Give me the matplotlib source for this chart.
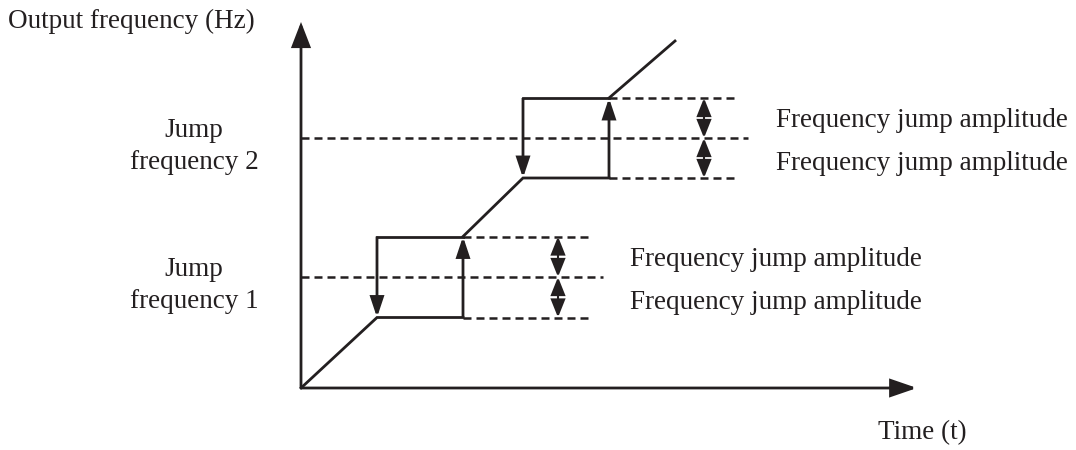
import numpy as np
import matplotlib.pyplot as plt
from matplotlib.patches import FancyArrowPatch

plt.rcParams['font.family'] = ['Liberation Serif', 'DejaVu Serif']

# diagram units (1 unit ~ 1 px), origin at the corner of the two axes
jump_freq = [111, 250]        # jump frequency 1 and 2
jump_amp = [40.5, 40]         # half width of each jump band
band_start = [76, 222]        # time where the output reaches the lower edge
band_stop = [162, 308]        # time where the output leaps to the upper edge
ramp_end = (374, 347)
axis_end = (616, 366)
amp_marker_t = [257, 403]     # where the amplitude double arrows sit
dash_end = [289, 434]
centre_dash_end = [302, 447]
band_names = ['frequency 1', 'frequency 2']
amp_label = 'Frequency jump amplitude'

ink = '#231f20'
fs = 19.5

fig = plt.figure(figsize=(10.76, 4.5), dpi=100)
ax = fig.add_axes([0, 0, 1, 1])
ax.set_xlim(-301, 775)
ax.set_ylim(-62, 388)
ax.axis('off')


def arrow(p0, p1, style, hl, hw, lw=2.0):
    a = FancyArrowPatch(p0, p1, arrowstyle=f'{style},head_length={hl},head_width={hw}',
                        mutation_scale=1, lw=lw, color=ink, shrinkA=0, shrinkB=0,
                        capstyle='butt', joinstyle='miter')
    ax.add_patch(a)


low = [f - a for f, a in zip(jump_freq, jump_amp)]
high = [f + a for f, a in zip(jump_freq, jump_amp)]

# axes
arrow((0, 0), (0, axis_end[1]), '-|>', 15, 5.8)
arrow((0, 0), (axis_end[0], 0), '-|>', 16, 5.5)

# output frequency path
ax.plot([0, band_start[0], band_stop[0]], [0, low[0], low[0]], color=ink, lw=2.0,
        solid_joinstyle='miter')
ax.plot([band_stop[0], band_start[1], band_stop[1]], [high[0], low[1], low[1]], color=ink,
        lw=2.0, solid_joinstyle='miter')
ax.plot([band_stop[1], ramp_end[0]], [high[1], ramp_end[1]], color=ink, lw=2.0)

dash = (0, (3.2, 2.0))
for i in range(2):
    # top of the band and the drop back down
    ax.plot([band_start[i], band_stop[i]], [high[i], high[i]], color=ink, lw=2.0)
    arrow((band_start[i], high[i]), (band_start[i], low[i]), '-|>', 12, 4.0)
    arrow((band_stop[i], low[i]), (band_stop[i], high[i]), '-|>', 12, 4.0)

    # dashed guides
    ax.plot([band_stop[i], dash_end[i]], [high[i], high[i]], color=ink, lw=1.8, ls=dash)
    ax.plot([band_stop[i], dash_end[i]], [low[i], low[i]], color=ink, lw=1.8, ls=dash)
    ax.plot([0, centre_dash_end[i]], [jump_freq[i], jump_freq[i]], color=ink, lw=1.8, ls=dash)

    # amplitude double arrows
    arrow((amp_marker_t[i], jump_freq[i]), (amp_marker_t[i], high[i]), '<|-|>', 11, 4.4, lw=1.5)
    arrow((amp_marker_t[i], jump_freq[i]), (amp_marker_t[i], low[i]), '<|-|>', 11, 4.4, lw=1.5)

    ax.text(amp_marker_t[i] + 72, jump_freq[i] + 11, amp_label, fontsize=fs, color=ink,
            ha='left', va='baseline')
    ax.text(amp_marker_t[i] + 72, jump_freq[i] - 32, amp_label, fontsize=fs, color=ink,
            ha='left', va='baseline')

    ax.text(-107, jump_freq[i] + 1, 'Jump', fontsize=fs, color=ink, ha='center', va='baseline')
    ax.text(-107, jump_freq[i] - 31, band_names[i], fontsize=fs, color=ink, ha='center',
            va='baseline')

ax.text(-293, 360, 'Output frequency (Hz)', fontsize=fs, color=ink, ha='left', va='baseline')
ax.text(577, -51, 'Time (t)', fontsize=fs, color=ink, ha='left', va='baseline')

fig.savefig('out.png', dpi=100)
